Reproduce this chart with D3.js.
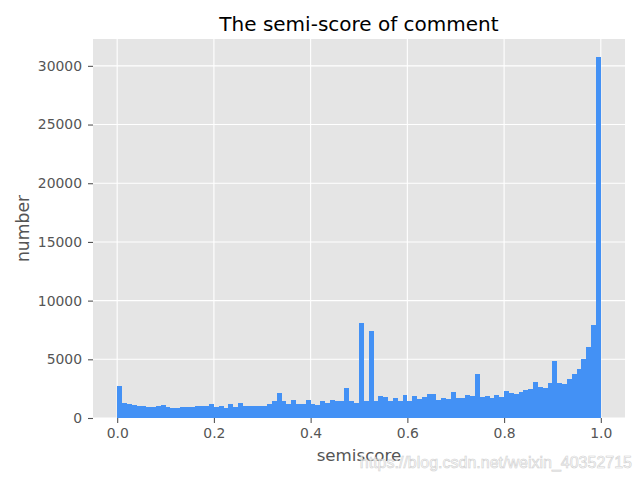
<!DOCTYPE html>
<html>
<head>
<meta charset="utf-8">
<script src="https://cdn.jsdelivr.net/npm/d3@7"></script>
<style>
  body { margin: 0; background: #fff; }
  svg { display: block; font-family: "DejaVu Sans", sans-serif; }
</style>
</head>
<body>
<div id="chart"></div>
<script>
// histogram counts, 100 bins over [0, 1]
var binStart = 0;
var binWidth = 0.01;
var counts = [
  2700, 1300, 1220, 1140, 1050, 1050, 970, 970, 1050, 1140,
  970, 880, 880, 970, 970, 970, 1050, 1050, 1050, 1220,
  970, 1050, 880, 1220, 970, 1300, 1050, 1050, 1050, 1050,
  1050, 1220, 1430, 2150, 1470, 1220, 1560, 1220, 1220, 1560,
  1220, 1140, 1430, 1300, 1560, 1430, 1470, 2570, 1430, 1300,
  8100, 1430, 7400, 1470, 1900, 1810, 1470, 1730, 1470, 1980,
  1470, 1900, 1640, 1810, 2060, 2060, 1560, 1730, 1640, 2230,
  1730, 1730, 1980, 1900, 3780, 1810, 1900, 1730, 1980, 1810,
  2320, 2150, 2060, 2230, 2400, 2490, 3070, 2650, 2570, 2990,
  4870, 2990, 2900, 3330, 3750, 4170, 5010, 6050, 7920, 30750
];

var xTicks = [0, 0.2, 0.4, 0.6, 0.8, 1.0];
var yTicks = [0, 5000, 10000, 15000, 20000, 25000, 30000];

var width = 640, height = 480;
var margin = {top: 39, right: 15, bottom: 62, left: 93};
var w = width - margin.left - margin.right;
var h = height - margin.top - margin.bottom;

var svg = d3.select('#chart')
  .append('svg')
  .attr('width', width)
  .attr('height', height);

var g = svg.append('g')
  .attr('transform', 'translate(' + margin.left + ',' + margin.top + ')');

var x = d3.scaleLinear()
  .domain([binStart - 0.05, binStart + counts.length * binWidth + 0.05])
  .range([0, w]);

var y = d3.scaleLinear()
  .domain([0, d3.max(counts) * 1.05])
  .range([h, 0]);

// panel background
g.append('rect')
  .attr('width', w)
  .attr('height', h)
  .attr('fill', '#e5e5e5');

// grid
g.selectAll('.gx')
  .data(xTicks)
  .enter().append('line')
  .attr('x1', function(d){ return x(d); })
  .attr('x2', function(d){ return x(d); })
  .attr('y1', 0)
  .attr('y2', h)
  .attr('stroke', '#fff')
  .attr('stroke-width', 1.1);

g.selectAll('.gy')
  .data(yTicks)
  .enter().append('line')
  .attr('x1', 0)
  .attr('x2', w)
  .attr('y1', function(d){ return y(d); })
  .attr('y2', function(d){ return y(d); })
  .attr('stroke', '#fff')
  .attr('stroke-width', 1.1);

// bars
g.selectAll('.bar')
  .data(counts)
  .enter().append('rect')
  .attr('class', 'bar')
  .attr('x', function(d, i){ return x(binStart + i * binWidth); })
  .attr('width', function(d, i){ return x(binStart + (i + 1) * binWidth) - x(binStart + i * binWidth); })
  .attr('y', function(d){ return y(d); })
  .attr('height', function(d){ return h - y(d); })
  .attr('fill', '#4391f5')
  .attr('shape-rendering', 'crispEdges');

// axes
var xAxis = g.append('g')
  .attr('transform', 'translate(0,' + h + ')')
  .call(d3.axisBottom(x).tickValues(xTicks).tickFormat(d3.format('.1f')).tickSize(5).tickPadding(5));

var yAxis = g.append('g')
  .call(d3.axisLeft(y).tickValues(yTicks).tickFormat(function(d){ return d; }).tickSize(5).tickPadding(6));

[xAxis, yAxis].forEach(function(a){
  a.select('.domain').remove();
  a.selectAll('line').attr('stroke', '#555555').attr('stroke-width', 1.1);
  a.selectAll('text')
    .attr('fill', '#555555')
    .style('font-size', '13.9px')
    .style('font-family', '"DejaVu Sans", sans-serif');
});

// labels
svg.append('text')
  .attr('x', margin.left + w / 2)
  .attr('y', 31)
  .attr('text-anchor', 'middle')
  .style('font-size', '20px')
  .attr('fill', '#000')
  .text('The semi-score of comment');

svg.append('text')
  .attr('x', margin.left + w / 2)
  .attr('y', 461)
  .attr('text-anchor', 'middle')
  .style('font-size', '16.7px')
  .attr('fill', '#555555')
  .text('semiscore');

svg.append('text')
  .attr('transform', 'translate(29,' + (margin.top + h / 2) + ') rotate(-90)')
  .attr('text-anchor', 'middle')
  .style('font-size', '17.2px')
  .attr('fill', '#555555')
  .text('number');

// watermark
svg.append('text')
  .attr('x', 632)
  .attr('y', 468)
  .attr('text-anchor', 'end')
  .style('font-family', '"Liberation Sans", Arial, sans-serif')
  .style('font-size', '16px')
  .attr('fill', '#ffffff')
  .attr('stroke', '#c8c8c8')
  .attr('stroke-width', 0.6)
  .attr('opacity', 0.85)
  .text('https://blog.csdn.net/weixin_40352715');
</script>
</body>
</html>
